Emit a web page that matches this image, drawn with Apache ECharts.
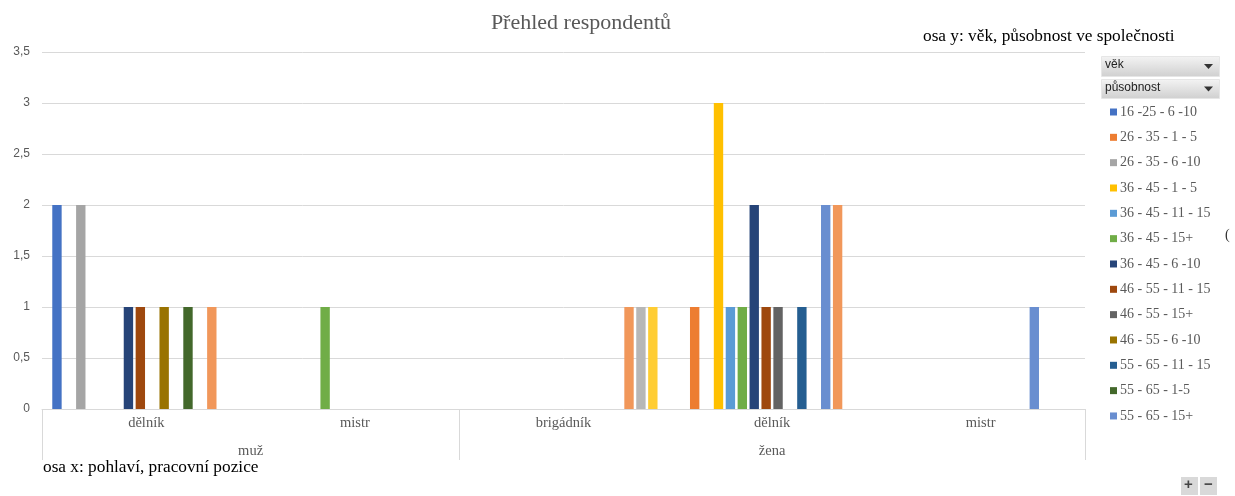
<!DOCTYPE html>
<html>
<head>
<meta charset="utf-8">
<script src="https://cdn.jsdelivr.net/npm/echarts@6/dist/echarts.min.js"></script>
<style>html,body{margin:0;padding:0;background:#fff;}#c{width:1235px;height:496px;}</style>
</head>
<body>
<div id="c"></div>
<script>
const categories = ['dělník', 'mistr', 'brigádník', 'dělník', 'mistr'];
const groupLabels = ['muž', 'žena'];
const groupLabelPos = [1, 3.5];
const groupBounds = [0, 2, 5];
const yTicks = [0, 0.5, 1, 1.5, 2, 2.5, 3, 3.5];
const seriesNames = [
  '16 -25 - 6 -10', '26 - 35 - 1 - 5', '26 - 35 - 6 -10', '36 - 45 - 1 - 5',
  '36 - 45 - 11 - 15', '36 - 45 - 15+', '36 - 45 - 6 -10', '46 - 55 - 11 - 15',
  '46 - 55 - 15+', '46 - 55 - 6 -10', '55 - 65 - 11 - 15', '55 - 65 - 1-5',
  '55 - 65 - 15+', '55 - 65 - 6 -10', 'nad 65 - 15+', 'nad 65 - 6 -10'
];
const visibleLegend = seriesNames.slice(0, 13);
const s01 = [2, null, null, null, null];
const s02 = [null, null, null, 1, null];
const s03 = [2, null, null, null, null];
const s04 = [null, null, null, 3, null];
const s05 = [null, null, null, 1, null];
const s06 = [null, 1, null, 1, null];
const s07 = [1, null, null, 2, null];
const s08 = [1, null, null, 1, null];
const s09 = [null, null, null, 1, null];
const s10 = [1, null, null, null, null];
const s11 = [null, null, null, 1, null];
const s12 = [1, null, null, null, null];
const s13 = [null, null, null, 2, 1];
const s14 = [1, null, 1, 2, null];
const s15 = [null, null, 1, null, null];
const s16 = [null, null, 1, null, null];
const seriesValues = [s01,s02,s03,s04,s05,s06,s07,s08,s09,s10,s11,s12,s13,s14,s15,s16];
const colors = ['#4472C4','#ED7D31','#A5A5A5','#FFC000','#5B9BD5','#70AD47','#264478','#9E480E',
  '#636363','#997300','#255E91','#43682B','#698ED0','#F1975A','#B7B7B7','#FFCD33'];

const serif = '"Liberation Serif", "Times New Roman", serif';
const sans = '"Liberation Sans", Arial, sans-serif';
const gray = '#595959';
const lineCol = '#d9d9d9';

const chart = echarts.init(document.getElementById('c'), null, {renderer: 'canvas'});

const series = seriesNames.map((n, i) => ({
  name: n, type: 'bar', xAxisIndex: 0, yAxisIndex: 0,
  data: seriesValues[i],
  barGap: '27%', barCategoryGap: '9.85%',
  itemStyle: {color: colors[i]},
  emphasis: {disabled: true}
}));

function btn(y, h, label) {
  return [
    {type: 'rect', left: 1101, top: y, shape: {width: 118, height: h},
     style: {fill: new echarts.graphic.LinearGradient(0,0,0,1,[{offset:0,color:'#f4f4f4'},{offset:1,color:'#cfcfcf'}]), stroke: '#e6e6e6', lineWidth: 1}},
    {type: 'text', left: 1105, top: y + h/2 - 7, style: {text: label, font: '12px ' + sans, fill: '#222'}},
    {type: 'polygon', shape: {points: [[1204, y + h/2 - 2], [1213, y + h/2 - 2], [1208.5, y + h/2 + 3]]}, style: {fill: '#333'}}
  ];
}

const option = {
  animation: false,
  color: colors,
  title: {
    text: 'Přehled respondentů', left: 576, top: 7, textAlign: 'center',
    textStyle: {fontFamily: serif, fontSize: 22, fontWeight: 'normal', color: gray}
  },
  legend: {
    data: visibleLegend, orient: 'vertical', left: 1105, top: 100,
    icon: 'rect', itemWidth: 7, itemHeight: 7, itemGap: 11.33,
    textStyle: {fontFamily: serif, fontSize: 14, color: gray, padding: [0,0,0,-2]},
    selectedMode: false
  },
  grid: {left: 42, right: 150, top: 52, bottom: 87, containLabel: false},
  xAxis: [
    {type: 'category', data: categories, position: 'bottom',
     axisLine: {lineStyle: {color: lineCol}}, axisTick: {show: false},
     axisLabel: {fontFamily: serif, fontSize: 14.5, color: gray, margin: 7, interval: 0}},
    {type: 'value', min: 0, max: 5, position: 'bottom',
     axisLine: {show: false}, splitLine: {show: false},
     axisTick: {show: true, customValues: groupBounds, length: 51, lineStyle: {color: lineCol}},
     axisLabel: {customValues: groupLabelPos, margin: 35, fontFamily: serif, fontSize: 14.5, color: gray,
       formatter: v => groupLabels[groupLabelPos.indexOf(v)] || ''}}
  ],
  yAxis: {
    type: 'value', min: 0, max: 3.5, interval: 0.5,
    axisLine: {show: false}, axisTick: {show: false},
    splitLine: {lineStyle: {color: lineCol}},
    axisLabel: {fontFamily: sans, fontSize: 12, color: gray, margin: 12,
      formatter: v => yTicks.includes(v) ? String(v).replace('.', ',') : ''}
  },
  series: series,
  graphic: [
    {type: 'text', left: 923, top: 28, style: {text: 'osa y: věk, působnost ve společnosti', font: '17.3px ' + serif, fill: '#000'}},
    {type: 'text', left: 43, top: 459, style: {text: 'osa x: pohlaví, pracovní pozice', font: '17.3px ' + serif, fill: '#000'}},
    {type: 'text', left: 1225, top: 228, style: {text: '(', font: '14px ' + serif, fill: '#333'}},
    ...btn(56, 20, 'věk'),
    ...btn(79, 19, 'působnost'),
    {type: 'rect', left: 1181, top: 477, shape: {width: 17, height: 18}, style: {fill: '#d9d9d9'}},
    {type: 'rect', left: 1200, top: 477, shape: {width: 17, height: 18}, style: {fill: '#d9d9d9'}},
    {type: 'text', left: 1184, top: 477, style: {text: '+', font: 'bold 15px ' + sans, fill: '#444'}},
    {type: 'text', left: 1204, top: 477, style: {text: '−', font: 'bold 15px ' + sans, fill: '#444'}}
  ]
};
chart.setOption(option);
</script>
</body>
</html>
